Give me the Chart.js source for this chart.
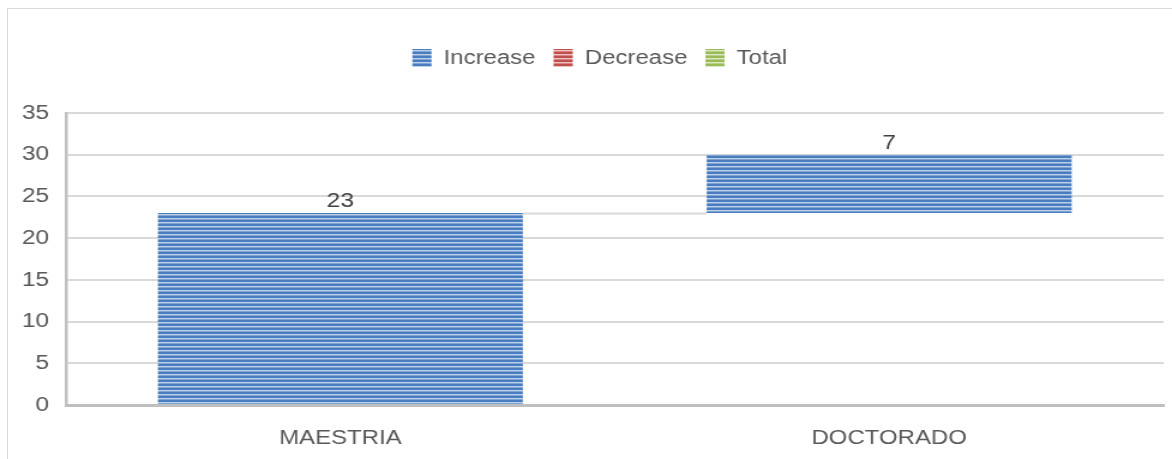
<!DOCTYPE html>
<html>
<head>
<meta charset="utf-8">
<script src="https://cdn.jsdelivr.net/npm/chart.js@4.4.1/dist/chart.umd.min.js"></script>
<style>
  html, body { margin: 0; padding: 0; background: #fff; overflow: hidden; }
  #frame { position: absolute; left: 7px; top: 8px; width: 1200px; height: 500px;
           border-left: 1px solid #d9d9d9; border-top: 1px solid #d9d9d9; }
  /* the original picture is stretched sideways, so the canvas is too */
  #chart { position: absolute; left: 0; top: 0; width: 1172px !important; height: 459px !important; }
</style>
</head>
<body>
<div id="frame"></div>
<canvas id="chart" width="977" height="459"></canvas>
<script>
const categories = ["MAESTRIA", "DOCTORADO"];
const increases = [23, 7];
const seriesNames = ["Increase", "Decrease", "Total"];
const yMin = 0, yMax = 35, yStep = 5;

document.addEventListener("DOMContentLoaded", () => {
  const FONT = "'Liberation Sans', Arial, sans-serif";

  // striped fill like the office "horizontal" pattern
  function stripes(dark, mid, light) {
    const c = document.createElement("canvas");
    c.width = 8; c.height = 4;
    const g = c.getContext("2d");
    g.fillStyle = dark; g.fillRect(0, 0, 8, 4);
    g.fillStyle = light; g.fillRect(0, 2, 8, 1);
    g.fillStyle = mid; g.fillRect(0, 3, 8, 1);
    return g.createPattern(c, "repeat");
  }
  const blue = stripes("#4a7cc0", "#7fa3d3", "#bcd0ea");
  const red = stripes("#c0504d", "#d98482", "#ecc3c2");
  const green = stripes("#9bbb59", "#b7cf86", "#dbe8c2");

  // waterfall ranges
  let run = 0;
  const ranges = increases.map((v) => { const r = [run, run + v]; run += v; return r; });

  const connectors = {
    id: "connectors",
    afterDatasetsDraw(chart) {
      const meta = chart.getDatasetMeta(0);
      const y = chart.scales.y;
      const ctx = chart.ctx;
      ctx.save();
      ctx.strokeStyle = "#d9d9d9";
      ctx.lineWidth = 2;
      for (let i = 0; i < meta.data.length - 1; i++) {
        const a = meta.data[i], b = meta.data[i + 1];
        const py = Math.round(y.getPixelForValue(ranges[i][1])) + 0.5;
        ctx.beginPath();
        ctx.moveTo(a.x + a.width / 2, py);
        ctx.lineTo(b.x - b.width / 2, py);
        ctx.stroke();
      }
      // value labels
      ctx.fillStyle = "#404040";
      ctx.font = "20.5px " + FONT;
      ctx.textAlign = "center";
      ctx.textBaseline = "alphabetic";
      meta.data.forEach((bar, i) => {
        const top = y.getPixelForValue(ranges[i][1]);
        ctx.fillText(String(increases[i]), bar.x, top - 6);
      });
      ctx.restore();
    }
  };

  // taller legend box, legend nudged right a little
  const legendTweak = {
    id: "legendTweak",
    afterInit(chart) {
      const lg = chart.legend;
      const fit = lg.fit;
      lg.fit = function () { fit.call(this); this.height = 80; };
      const draw = lg.draw;
      lg.draw = function (...args) {
        this.ctx.save();
        this.ctx.translate(15, 0);
        draw.apply(this, args);
        this.ctx.restore();
      };
    }
  };

  new Chart(document.getElementById("chart"), {
    type: "bar",
    data: {
      labels: categories,
      datasets: [
        { label: seriesNames[0], data: ranges, backgroundColor: blue, grouped: false },
        { label: seriesNames[1], data: categories.map(() => null), backgroundColor: red, grouped: false },
        { label: seriesNames[2], data: categories.map(() => null), backgroundColor: green, grouped: false },
      ],
    },
    options: {
      responsive: false,
      animation: false,
      devicePixelRatio: 1,
      barPercentage: 0.665,
      categoryPercentage: 1,
      layout: { padding: { top: 33, right: 7, bottom: 0, left: 0 } },
      plugins: {
        legend: {
          position: "top",
          labels: {
            boxWidth: 16, boxHeight: 18, padding: 15,
            color: "#595959", font: { family: FONT, size: 20 },
          },
        },
        tooltip: { enabled: false },
      },
      scales: {
        x: {
          grid: { display: false, drawTicks: false },
          border: { display: true, color: "#bfbfbf", width: 3 },
          ticks: { color: "#595959", font: { family: FONT, size: 20 }, padding: 21 },
          afterFit: (s) => { s.height = 54; },
        },
        y: {
          min: yMin, max: yMax,
          grid: { color: "#d9d9d9", lineWidth: 2, drawTicks: false },
          border: { display: true, color: "#bfbfbf", width: 2.5 },
          ticks: { stepSize: yStep, color: "#595959", font: { family: FONT, size: 20.5 }, padding: 14 },
          afterFit: (s) => { s.width = 55; },
        },
      },
    },
    plugins: [connectors, legendTweak],
  });
});
</script>
</body>
</html>
